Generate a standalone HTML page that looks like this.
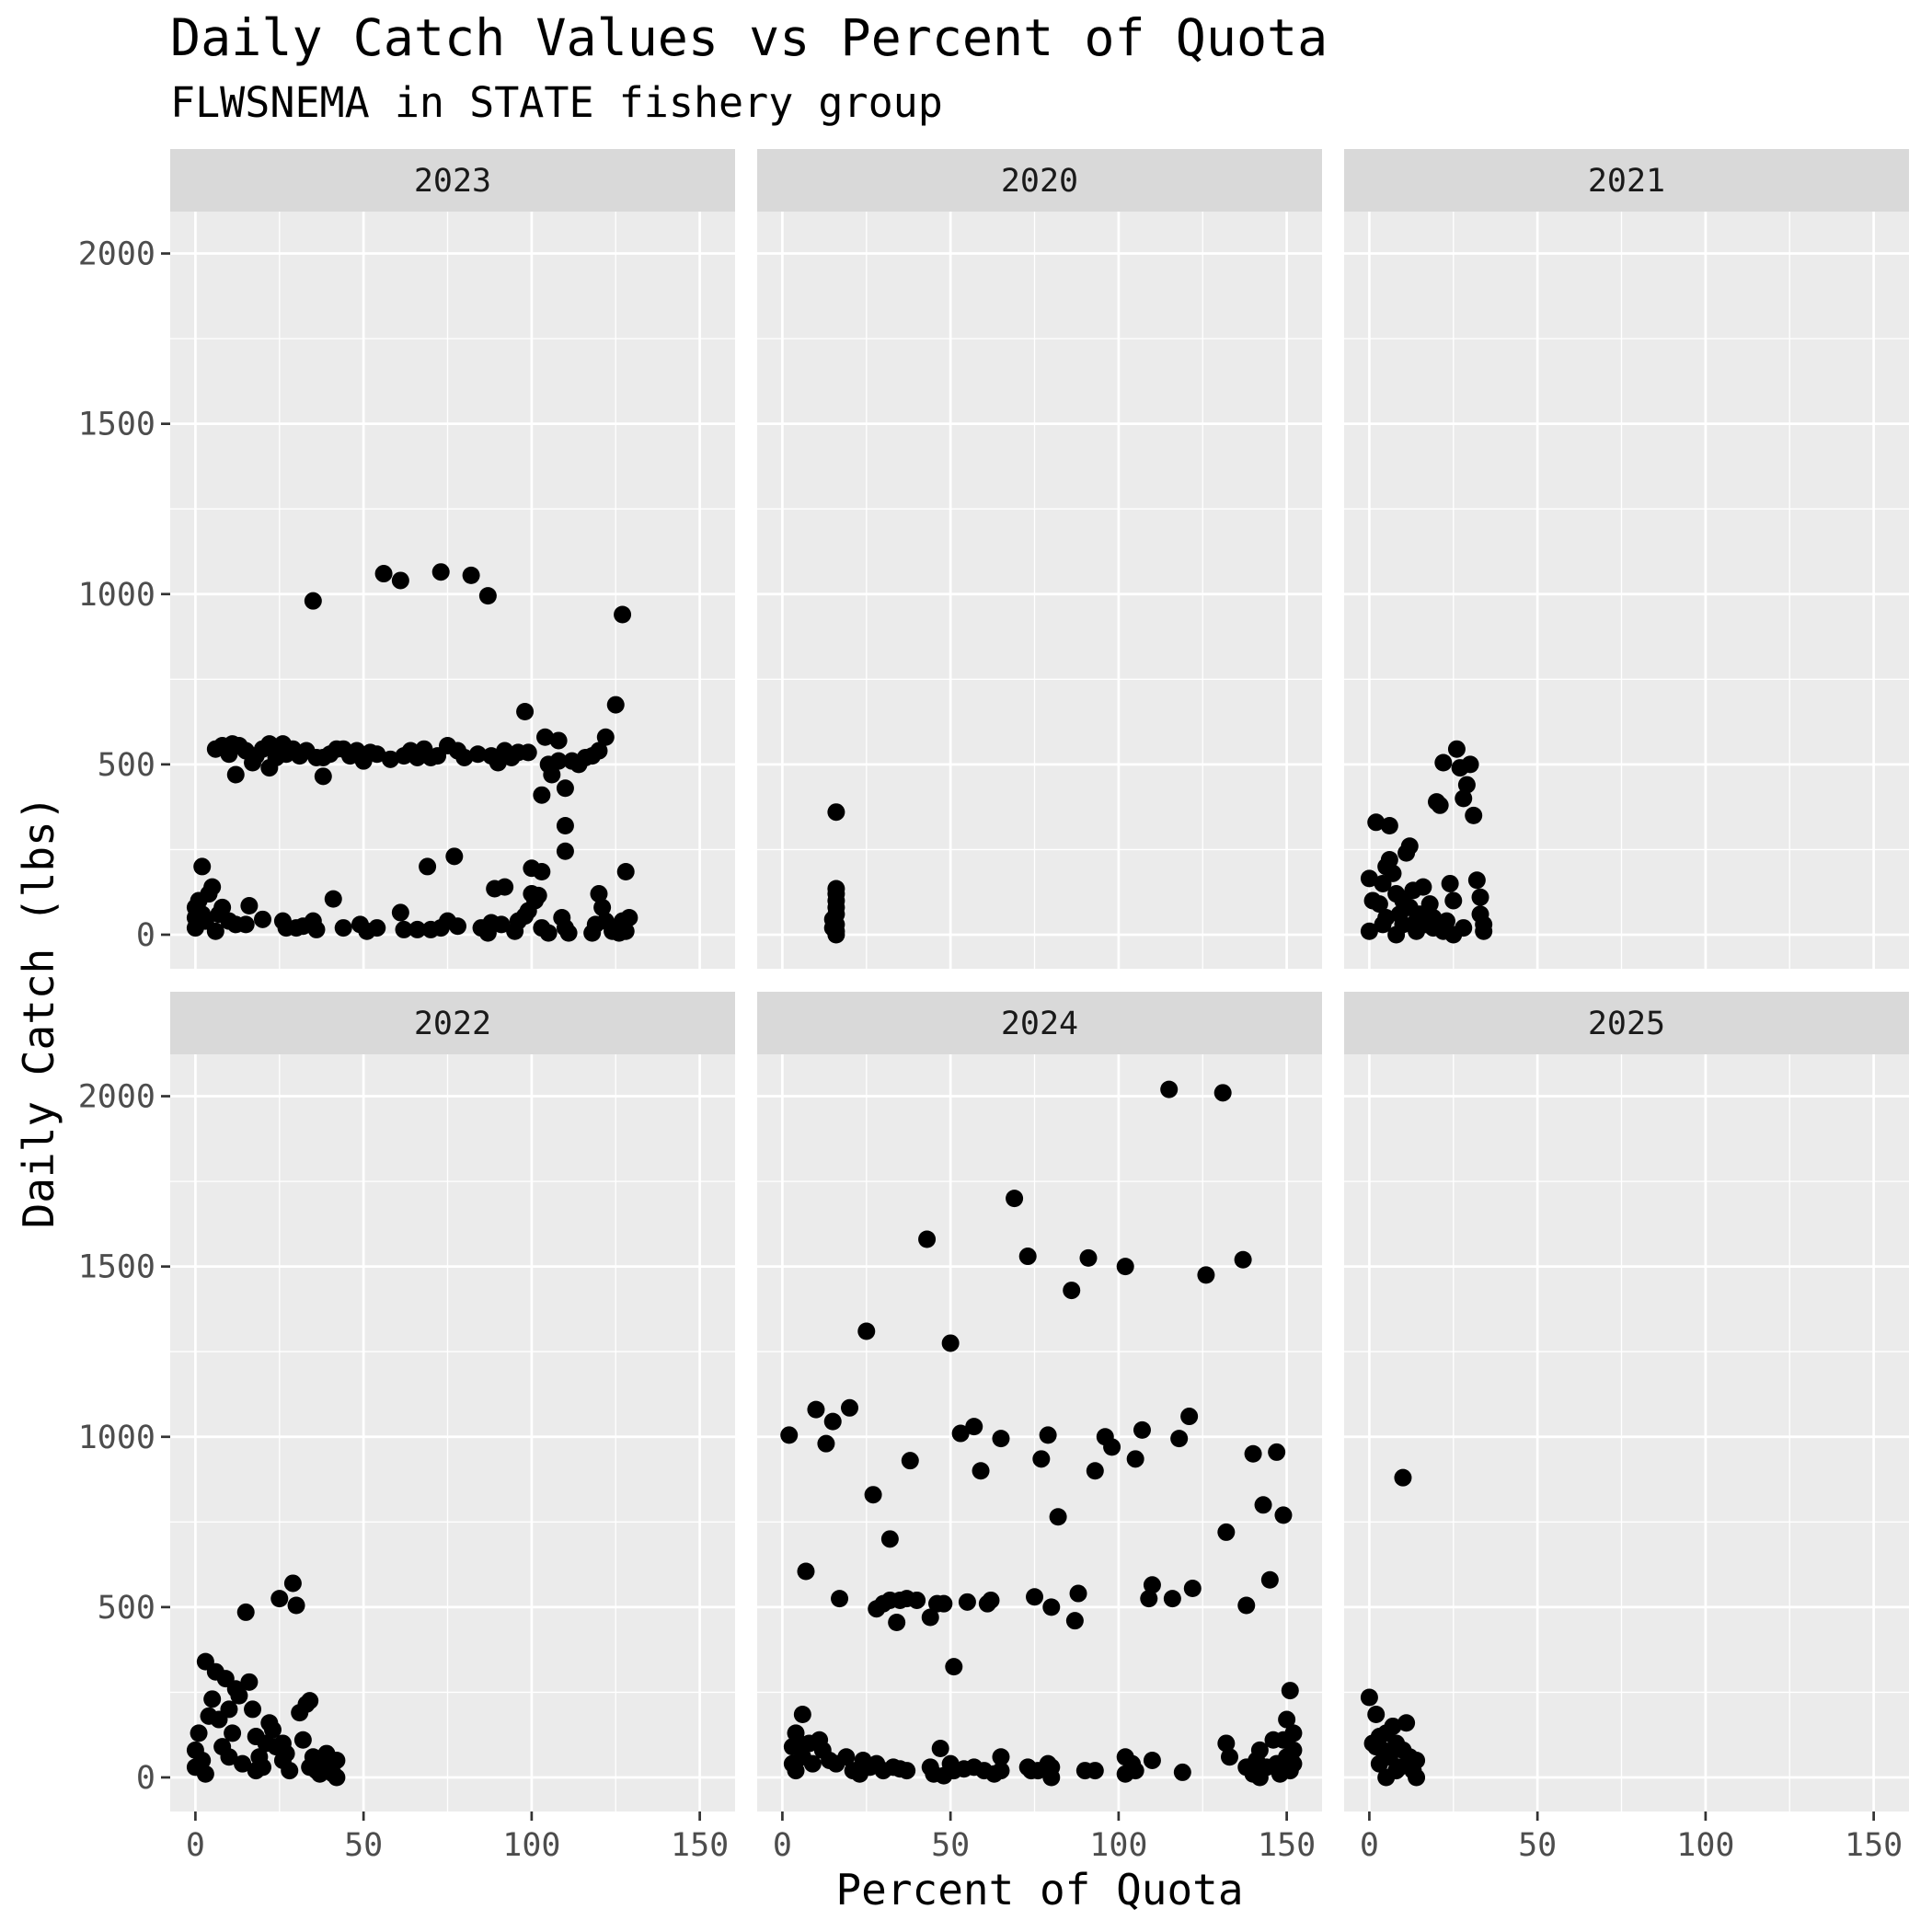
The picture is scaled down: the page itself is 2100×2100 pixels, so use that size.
<!DOCTYPE html>
<html><head><meta charset="utf-8">
<style>
html,body{margin:0;padding:0;background:#fff;}
svg{display:block;font-family:"DejaVu Sans Mono","Liberation Mono",monospace;}
</style></head>
<body>
<svg id="chart" width="2100" height="2100" viewBox="0 0 2100 2100" xmlns="http://www.w3.org/2000/svg">
<text x="185" y="60" font-size="55" fill="#000">Daily Catch Values vs Percent of Quota</text>
<text x="185" y="127" font-size="45" fill="#000">FLWSNEMA in STATE fishery group</text>
<text x="1130" y="2070" font-size="46" text-anchor="middle" fill="#000">Percent of Quota</text>
<text transform="translate(58,1100) rotate(-90)" font-size="46" text-anchor="middle" fill="#000">Daily Catch (lbs)</text>
<g id="panels"></g>
</svg>
<script>
const years = ["2023","2020","2021","2022","2024","2025"];
const xTicks = [0,50,100,150];
const yTicks = [0,500,1000,1500,2000];
const x2023 = [6,8,10,11,13,15,17,18,20,22,22,24,26,27,29,31,33,36,38,40,42,44,46,48,50,52,54,58,62,64,66,68,70,72,75,78,80,84,88,90,92,94,96,99,105,108,112,114,116,118,120,12,38,
0,0,0,1,2,2,3,4,5,6,7,8,10,12,15,16,20,26,27,30,32,35,36,41,44,49,51,54,61,62,66,70,73,75,78,85,87,88,89,91,92,95,96,98,99,100,101,102,103,105,109,110,111,118,119,120,121,122,124,126,127,128,129,128,100,103,69,77,
35,56,61,73,82,87,127,125,98,122,104,108,103,106,110,110,110];
const y2023 = [545,555,530,560,555,540,505,525,545,560,490,520,560,530,545,525,540,520,520,530,545,545,525,540,510,535,530,515,525,540,520,545,520,525,555,540,520,530,525,505,540,520,535,535,500,510,510,500,520,525,540,470,465,
20,50,80,100,200,60,40,120,140,10,60,80,40,30,30,85,45,40,20,20,25,40,15,105,20,30,10,20,65,15,15,15,20,40,25,20,5,35,135,30,140,10,40,55,70,120,100,115,20,5,50,20,5,5,30,120,80,40,10,5,40,10,50,185,195,185,200,230,
980,1060,1040,1065,1055,995,940,675,655,580,580,570,410,470,430,320,245];
const x2020 = [16,16,15,16,15,16,16,16,16,16,16];
const y2020 = [0,10,20,30,45,60,80,100,120,135,360];
const x2021 = [0,0,1,2,3,4,5,5,6,6,7,8,8,9,10,11,12,12,13,14,15,16,17,18,19,20,21,22,23,24,25,25,26,27,28,29,30,31,32,33,34,34,33,28,22,19,14,10,4];
const y2021 = [10,165,100,330,90,150,50,200,220,320,180,0,120,60,30,240,260,80,130,10,60,140,30,90,20,390,380,505,40,150,0,100,545,490,400,440,500,350,160,110,30,10,60,20,10,50,40,100,30];
const x2022 = [0,0,1,2,3,4,5,6,7,8,9,10,11,12,13,14,15,16,17,18,19,20,21,22,23,24,25,26,27,28,29,30,31,32,33,34,35,36,37,38,39,40,41,42,42,3,10,18,26,34];
const y2022 = [80,30,130,50,340,180,230,310,170,90,290,200,130,260,240,40,485,280,200,120,60,30,100,160,140,90,525,50,70,20,570,505,190,110,215,225,60,20,10,40,70,30,10,50,0,10,60,20,100,30];
const x2024 = [2,10,13,15,20,25,27,32,7,17,28,30,32,34,35,37,38,40,43,44,46,48,50,51,53,55,57,59,61,62,65,69,73,75,77,79,80,82,86,87,88,91,93,96,98,102,105,107,109,110,115,116,118,121,122,126,131,132,137,138,140,143,145,147,149,151,150,149,152,132,133,142,141,6,4,5,
3,3,4,6,8,9,11,12,14,16,19,21,23,24,26,28,30,33,35,37,44,45,47,48,50,51,54,57,60,63,65,65,73,74,76,79,80,80,90,93,102,102,104,105,110,119,138,140,142,144,146,147,148,150,151,152,152];
const y2024 = [1005,1080,980,1045,1085,1310,830,700,605,525,495,510,520,455,520,525,930,520,1580,470,510,510,1275,325,1010,515,1030,900,510,520,995,1700,1530,530,935,1005,500,765,1430,460,540,1525,900,1000,970,1500,935,1020,525,565,2020,525,995,1060,555,1475,2010,720,1520,505,950,800,580,955,770,255,170,110,130,100,60,80,50,185,130,100,
90,40,20,60,100,40,110,80,50,40,60,20,10,50,30,40,20,30,25,20,30,10,85,5,40,20,25,30,20,10,60,20,30,20,20,40,0,30,20,20,10,60,40,20,50,15,30,10,0,30,110,40,10,60,20,40,80];
const x2025 = [0,1,2,3,3,4,5,6,7,8,9,10,10,11,12,12,13,14,14,5,8,2];
const y2025 = [235,100,185,120,40,80,0,60,150,100,30,880,80,160,40,60,20,0,50,130,20,90];
const xsData = [x2023,x2020,x2021,x2022,x2024,x2025];
const ysData = [y2023,y2020,y2021,y2022,y2024,y2025];

const NS="http://www.w3.org/2000/svg";
const colL=[185,823,1461], colW=614;
const rowT=[230,1146], rowH=823, stripH=68;
const xMin=-7.5, xMax=160.5, yMin=-100, yMax=2123;
const g=document.getElementById('panels');
function mk(tag,attrs,parent){const e=document.createElementNS(NS,tag);for(const k in attrs)e.setAttribute(k,attrs[k]);(parent||g).appendChild(e);return e;}

for(let p=0;p<6;p++){
  const c=p%3, r=Math.floor(p/3);
  const L=colL[c], T=rowT[r];
  const sx=v=>L+(v-xMin)/(xMax-xMin)*colW;
  const sy=v=>T+rowH-(v-yMin)/(yMax-yMin)*rowH;
  const pg=mk('g',{});
  
  
  const strip=mk('rect',{x:L,y:T-stripH,width:colW,height:stripH,fill:'#d9d9d9'},pg);
  
  
  const st=mk('text',{x:L+colW/2,y:T-stripH/2+12,'font-size':35,'text-anchor':'middle',fill:'#1a1a1a'},pg);
  st.textContent=years[p];
  
  
  const bg=mk('rect',{x:L,y:T,width:colW,height:rowH,fill:'#ebebeb'},pg);
  
  
  for(let v=25;v<=150;v+=50){const l=mk('line',{x1:sx(v),x2:sx(v),y1:T,y2:T+rowH,stroke:'#fff','stroke-width':1.3},pg);}
  for(let v=250;v<=2000;v+=500){const l=mk('line',{x1:L,x2:L+colW,y1:sy(v),y2:sy(v),stroke:'#fff','stroke-width':1.3},pg);}
  xTicks.forEach(v=>{const l=mk('line',{x1:sx(v),x2:sx(v),y1:T,y2:T+rowH,stroke:'#fff','stroke-width':2.7},pg);});
  yTicks.forEach(v=>{const l=mk('line',{x1:L,x2:L+colW,y1:sy(v),y2:sy(v),stroke:'#fff','stroke-width':2.7},pg);});
  if(c===0){
    yTicks.forEach(v=>{
      const t=mk('line',{x1:L-10,x2:L,y1:sy(v),y2:sy(v),stroke:'#333','stroke-width':2.7},pg);
      
      const lb=mk('text',{x:L-16,y:sy(v)+12,'font-size':35,'text-anchor':'end',fill:'#4d4d4d'},pg);
      lb.textContent=v;
      
    });
  }
  if(r===1){
    xTicks.forEach(v=>{
      const t=mk('line',{x1:sx(v),x2:sx(v),y1:T+rowH,y2:T+rowH+10,stroke:'#333','stroke-width':2.7},pg);
      
      const lb=mk('text',{x:sx(v),y:T+rowH+48,'font-size':35,'text-anchor':'middle',fill:'#4d4d4d'},pg);
      lb.textContent=v;
      
    });
  }
  const xs=xsData[p], ys=ysData[p];
  for(let i=0;i<xs.length;i++){
    const d=mk('circle',{cx:sx(xs[i]),cy:sy(ys[i]),r:9.5,fill:'#000'},pg);
    
    
  }
}
</script>
</body></html>
